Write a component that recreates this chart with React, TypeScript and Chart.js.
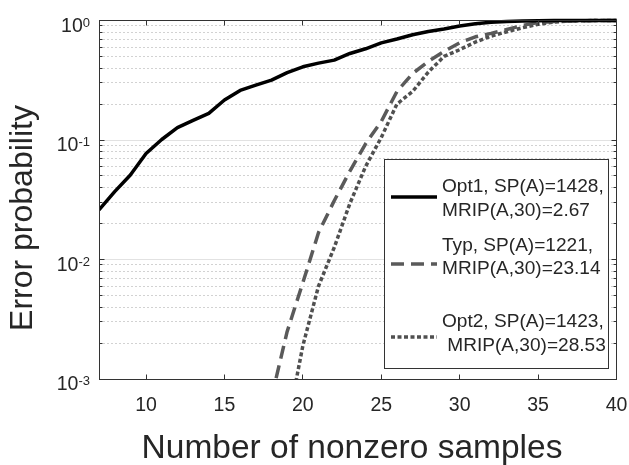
import React, { useEffect, useRef } from "react";
import { Chart, registerables } from "chart.js";

Chart.register(...registerables);

// ---- data ----
const nValues = [7, 8, 9, 10, 11, 12, 13, 14, 15, 16, 17, 18, 19, 20, 21, 22, 23, 24, 25, 26, 27, 28, 29, 30, 31, 32, 33, 34, 35, 36, 37, 38, 39, 40];
const opt1Values = [0.026, 0.037, 0.051, 0.077, 0.101, 0.127, 0.146, 0.167, 0.216, 0.26, 0.288, 0.317, 0.366, 0.41, 0.44, 0.466, 0.53, 0.58, 0.65, 0.7, 0.76, 0.81, 0.85, 0.9, 0.94, 0.965, 0.98, 0.99, 0.995, 0.998, 0.999, 1, 1, 1];
const typValues = [null, null, null, null, null, null, null, null, null, null, null, 0.0007, 0.0025, 0.0064, 0.0168, 0.031, 0.055, 0.093, 0.143, 0.255, 0.36, 0.455, 0.55, 0.65, 0.73, 0.78, 0.84, 0.91, 0.96, 0.98, 0.99, 0.996, 1, 1];
const opt2Values = [null, null, null, null, null, null, null, null, null, null, null, null, 0.0004, 0.0019, 0.006, 0.0126, 0.0295, 0.06, 0.105, 0.2, 0.255, 0.37, 0.5, 0.57, 0.66, 0.74, 0.805, 0.87, 0.93, 0.97, 0.99, 0.996, 1, 1];
const xTickValues = [10, 15, 20, 25, 30, 35, 40];
const yTickExponents = [0, -1, -2, -3];
const legendLines = [
  ["Opt1, SP(A)=1428,", "MRIP(A,30)=2.67"],
  ["Typ, SP(A)=1221,", "MRIP(A,30)=23.14"],
  ["Opt2, SP(A)=1423,", " MRIP(A,30)=28.53"],
];
const xTitle = "Number of nonzero samples";
const yTitle = "Error probability";

const FONT = "'Liberation Sans', Arial, sans-serif";
const TEXT = "#262626";
const AXIS = "#333333";

const seriesStyles = [
  { color: "#000000", width: 3.5, dash: [] as number[] },
  { color: "#5a5a5a", width: 3.5, dash: [13, 7] },
  { color: "#505050", width: 3.5, dash: [4, 2.5] },
];

const px = (v: number) => Math.floor(v) + 0.5;

function stretchedText(ctx: CanvasRenderingContext2D, s: string, x: number, y: number, k: number) {
  ctx.save();
  ctx.translate(x, y);
  ctx.scale(k, 1);
  ctx.fillText(s, 0, 0);
  ctx.restore();
}

const decorPlugin = {
  id: "decor",
  beforeDatasetsDraw(chart: any) {
    const { ctx, chartArea: a, scales } = chart;
    const y = scales.y;
    ctx.save();
    ctx.lineWidth = 1;
    for (const e of [-3, -2, -1]) {
      for (let m = 2; m <= 9; m++) {
        const yy = px(y.getPixelForValue(m * Math.pow(10, e)));
        ctx.strokeStyle = "#d2d2d2";
        ctx.setLineDash([2, 2]);
        ctx.beginPath();
        ctx.moveTo(a.left, yy);
        ctx.lineTo(a.right, yy);
        ctx.stroke();
      }
    }
    ctx.setLineDash([]);
    for (const e of yTickExponents) {
      const yy = px(y.getPixelForValue(Math.pow(10, e)));
      ctx.strokeStyle = "#e2e2e2";
      ctx.beginPath();
      ctx.moveTo(a.left, yy);
      ctx.lineTo(a.right, yy);
      ctx.stroke();
    }
    ctx.restore();
  },
  afterDatasetsDraw(chart: any) {
    const { ctx, chartArea: a, scales } = chart;
    const x = scales.x;
    const y = scales.y;
    ctx.save();
    ctx.strokeStyle = AXIS;
    ctx.lineWidth = 1;
    const L = px(a.left), R = px(a.right), T = px(a.top), B = px(a.bottom);
    ctx.strokeRect(L, T, R - L, B - T);
    ctx.beginPath();
    for (const v of xTickValues) {
      const xx = px(x.getPixelForValue(v));
      ctx.moveTo(xx, B);
      ctx.lineTo(xx, B - 5);
      ctx.moveTo(xx, T);
      ctx.lineTo(xx, T + 5);
    }
    for (const e of [-3, -2, -1]) {
      for (let m = 1; m <= 9; m++) {
        const len = m === 1 ? 5 : 3;
        const yy = px(y.getPixelForValue(m * Math.pow(10, e)));
        ctx.moveTo(L, yy);
        ctx.lineTo(L + len, yy);
        ctx.moveTo(R, yy);
        ctx.lineTo(R - len, yy);
      }
    }
    ctx.stroke();

    // legend
    const bx = 384.5, by = 159.5, bw = 224, bh = 209;
    ctx.fillStyle = "#ffffff";
    ctx.fillRect(bx, by, bw, bh);
    ctx.strokeStyle = AXIS;
    ctx.strokeRect(bx, by, bw, bh);
    const lineYs = [197, 264, 337];
    const baseYs = [[192, 216], [251, 274], [327, 351]];
    for (let i = 0; i < legendLines.length; i++) {
      const s = seriesStyles[i];
      ctx.strokeStyle = s.color;
      ctx.lineWidth = s.width;
      ctx.setLineDash(s.dash);
      ctx.lineCap = "butt";
      ctx.beginPath();
      ctx.moveTo(391, lineYs[i]);
      ctx.lineTo(437, lineYs[i]);
      ctx.stroke();
      ctx.setLineDash([]);
      ctx.fillStyle = TEXT;
      ctx.font = `17.5px ${FONT}`;
      ctx.textAlign = "left";
      ctx.textBaseline = "alphabetic";
      stretchedText(ctx, legendLines[i][0], 442, baseYs[i][0], 1.09);
      stretchedText(ctx, legendLines[i][1], 442, baseYs[i][1], 1.09);
    }
    ctx.restore();
  },
  afterDraw(chart: any) {
    const { ctx, scales } = chart;
    const x = scales.x;
    const y = scales.y;
    ctx.save();
    ctx.fillStyle = TEXT;
    ctx.textBaseline = "alphabetic";
    ctx.font = `19.5px ${FONT}`;
    ctx.textAlign = "center";
    for (const v of xTickValues) {
      ctx.fillText(String(v), x.getPixelForValue(v), 411);
    }
    ctx.textAlign = "left";
    for (const e of yTickExponents) {
      const yy = y.getPixelForValue(Math.pow(10, e));
      const expStr = String(e);
      ctx.font = `13px ${FONT}`;
      const ew = ctx.measureText(expStr).width;
      const xr = 90;
      ctx.fillText(expStr, xr - ew, yy + 6);
      ctx.font = `19.5px ${FONT}`;
      const bw = ctx.measureText("10").width;
      ctx.fillText("10", xr - ew - bw, yy + 11);
    }
    ctx.font = `33.5px ${FONT}`;
    ctx.textAlign = "center";
    ctx.fillText(xTitle, 352, 458);
    ctx.save();
    ctx.translate(32, 218);
    ctx.rotate(-Math.PI / 2);
    ctx.font = `32px ${FONT}`;
    ctx.fillText(yTitle, 0, 0);
    ctx.restore();
    ctx.restore();
  },
};

export default function App() {
  const ref = useRef<HTMLCanvasElement | null>(null);
  useEffect(() => {
    document.body.style.margin = "0";
    const canvas = ref.current!;
    const series = [opt1Values, typValues, opt2Values];
    const chart = new Chart(canvas, {
      type: "line",
      data: {
        datasets: series.map((vals, i) => ({
          label: legendLines[i][0],
          data: nValues.map((n, j) => ({ x: n, y: vals[j] as any })),
          borderColor: seriesStyles[i].color,
          borderWidth: seriesStyles[i].width,
          borderDash: seriesStyles[i].dash,
          borderCapStyle: "butt",
          borderJoinStyle: "round",
          pointRadius: 0,
          tension: 0,
          fill: false,
          spanGaps: false,
          clip: { left: 0, right: 2, top: 3, bottom: 0 },
        })) as any,
      },
      options: {
        animation: false,
        responsive: false,
        devicePixelRatio: 1,
        layout: { padding: { left: 99, right: 12.5, top: 20.5, bottom: 86 } },
        scales: {
          x: { type: "linear", min: 7, max: 40, display: false },
          y: { type: "logarithmic", min: 0.001, max: 1, display: false },
        },
        plugins: { legend: { display: false }, tooltip: { enabled: false } },
      },
      plugins: [decorPlugin],
    });
    return () => chart.destroy();
  }, []);
  return <canvas ref={ref} width={629} height={465} style={{ display: "block" }} />;
}
